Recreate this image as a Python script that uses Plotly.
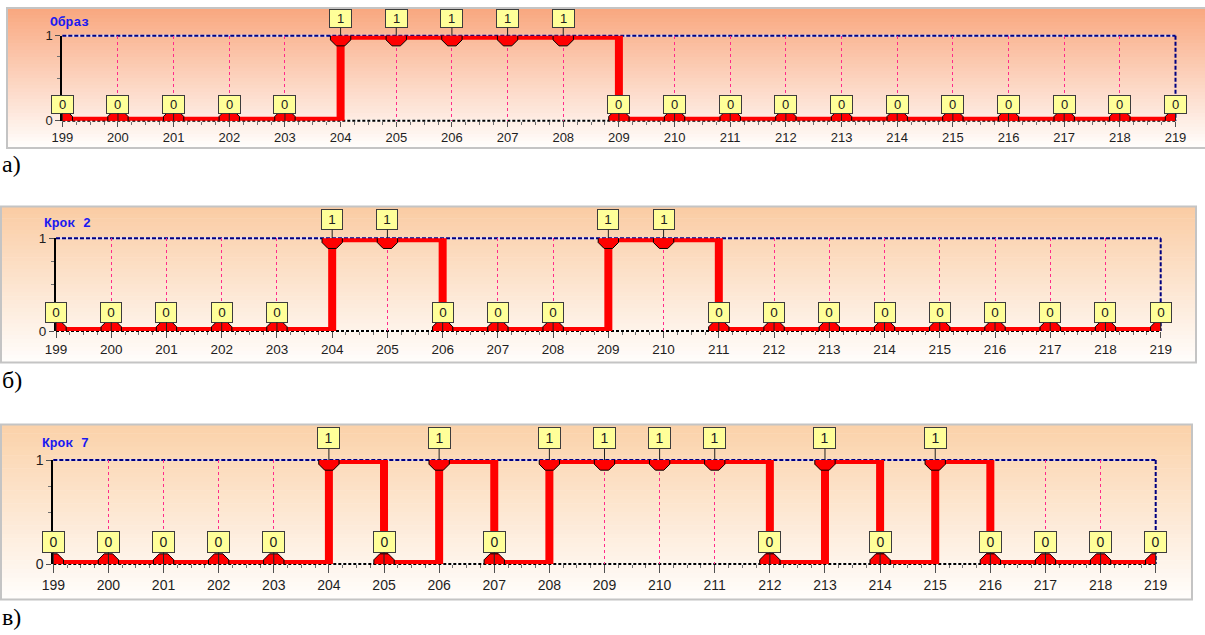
import plotly.graph_objects as go

# ---- data ----
x_vals = [199, 200, 201, 202, 203, 204, 205, 206, 207, 208, 209,
          210, 211, 212, 213, 214, 215, 216, 217, 218, 219]
a_vals = [0, 0, 0, 0, 0, 1, 1, 1, 1, 1, 0, 0, 0, 0, 0, 0, 0, 0, 0, 0, 0]
b_vals = [0, 0, 0, 0, 0, 1, 1, 0, 0, 0, 1, 1, 0, 0, 0, 0, 0, 0, 0, 0, 0]
c_vals = [0, 0, 0, 0, 0, 1, 0, 1, 0, 1, 1, 1, 1, 0, 1, 0, 1, 0, 0, 0, 0]
titles = ["Образ", "Крок 2", "Крок 7"]
letters = ["а)", "б)", "в)"]
y_ticks = [0, 1]
series = [a_vals, b_vals, c_vals]

W, H = 1205, 635

# ---- geometry (pixels) ----
panels = [
    dict(box=(7, 8, 1212, 148), px=(62.3, 1175.5), py=(35.7, 120.7), title=(48, 23),
         bw=21, bh=17, ay0=-16.5, ay1=-17, font=13, top=(249, 168, 128),
         letter=(0, 164), ticklen=5),
    dict(box=(1, 206.5, 1196, 362.5), px=(56, 1160.7), py=(238.3, 331), title=(41.7, 223.3),
         bw=20, bh=19, ay0=-19, ay1=-18.7, font=13.5, top=(250, 204, 164),
         letter=(0, 380), ticklen=6),
    dict(box=(1, 424.5, 1192, 599.5), px=(53.3, 1155.7), py=(460, 564), title=(40, 443),
         bw=21, bh=20, ay0=-22.3, ay1=-21.7, font=14, top=(251, 210, 170),
         letter=(0, 617), ticklen=8),
]

def fx(p):
    return p / W

def fy(p):
    return 1 - p / H

fig = go.Figure()
shapes = []
annotations = []
layout_axes = {}

for i, (pn, vals) in enumerate(zip(panels, series)):
    k = "" if i == 0 else str(i + 1)
    xa, ya = "x" + k, "y" + k
    bx0, by0, bx1, by1 = pn["box"]
    # gradient background bands
    n = 40
    tr, tg, tb = pn["top"]
    br, bgc, bb = (255, 253, 251)
    for j in range(n):
        t = j / (n - 1)
        col = "rgb(%d,%d,%d)" % (round(tr + (br - tr) * t), round(tg + (bgc - tg) * t),
                                 round(tb + (bb - tb) * t))
        y0p = by0 + (by1 - by0) * j / n
        y1p = by0 + (by1 - by0) * (j + 1) / n + 0.6
        shapes.append(dict(type="rect", xref="paper", yref="paper", x0=fx(bx0), x1=fx(bx1),
                           y0=fy(y0p), y1=fy(min(y1p, by1)), fillcolor=col, line_width=0,
                           layer="below"))
    # panel border
    shapes.append(dict(type="rect", xref="paper", yref="paper", x0=fx(bx0), x1=fx(bx1),
                       y0=fy(by0), y1=fy(by1), line=dict(color="#C4C4C4", width=2),
                       fillcolor="rgba(0,0,0,0)", layer="below"))
    px0, px1 = pn["px"]
    pyt, pyb = pn["py"]
    # frame: top blue dashed, right blue dashed, bottom black dashed
    shapes.append(dict(type="line", xref="paper", yref="paper", x0=fx(px0), x1=fx(px1),
                       y0=fy(pyt), y1=fy(pyt), line=dict(color="#D8D8FF", width=2), layer="below"))
    shapes.append(dict(type="line", xref="paper", yref="paper", x0=fx(px0), x1=fx(px1),
                       y0=fy(pyt), y1=fy(pyt), line=dict(color="#000080", width=2, dash="4px,2px"),
                       layer="below"))
    shapes.append(dict(type="line", xref="paper", yref="paper", x0=fx(px1), x1=fx(px1),
                       y0=fy(pyt), y1=fy(pyb), line=dict(color="#000080", width=2, dash="4px,2px"),
                       layer="below"))
    shapes.append(dict(type="line", xref="paper", yref="paper", x0=fx(px0), x1=fx(px1),
                       y0=fy(pyb), y1=fy(pyb), line=dict(color="#FFFFFF", width=2), layer="below"))
    shapes.append(dict(type="line", xref="paper", yref="paper", x0=fx(px0), x1=fx(px1),
                       y0=fy(pyb), y1=fy(pyb), line=dict(color="#000000", width=2, dash="3px,2px"),
                       layer="below"))

    fig.add_trace(go.Scatter(
        x=x_vals, y=vals, xaxis=xa, yaxis=ya, mode="lines+markers",
        line=dict(color="#FF0000", width=8, shape="hv"),
        marker=dict(symbol="octagon", size=22, color="#FF0000",
                    line=dict(color="#000000", width=1)),
        cliponaxis=True, hoverinfo="skip", showlegend=False))

    tickfont = dict(family="Liberation Sans, Arial", size=pn["font"], color="#1E1E1E")
    layout_axes["xaxis" + k] = dict(
        domain=[fx(px0), fx(px1)], range=[x_vals[0], x_vals[-1]], anchor=ya,
        tickmode="array", tickvals=x_vals, ticktext=[str(v) for v in x_vals],
        ticks="outside", ticklen=pn["ticklen"], tickcolor="#505050", tickwidth=1,
        showgrid=True, gridcolor="#FF2A8A", griddash="3px,3px", gridwidth=1,
        zeroline=False, showline=False, tickfont=tickfont,
        minor=dict(dtick=0.25, tick0=x_vals[0], ticks="outside", ticklen=3,
                   tickcolor="#707070", showgrid=False),
        fixedrange=True)
    layout_axes["yaxis" + k] = dict(
        domain=[fy(pyb), fy(pyt)], range=[0, 1], anchor=xa,
        tickmode="array", tickvals=y_ticks, ticktext=[str(v) for v in y_ticks],
        ticks="outside", ticklen=5, tickcolor="#505050", tickwidth=1,
        showgrid=False, zeroline=False, showline=True, linecolor="#000000", linewidth=2,
        tickfont=tickfont,
        minor=dict(dtick=0.25, ticks="outside", ticklen=3, tickcolor="#707070", showgrid=False),
        fixedrange=True)

    # value label boxes
    for xv, v in zip(x_vals, vals):
        annotations.append(dict(
            x=xv, y=v, xref=xa, yref=ya, text=str(v), showarrow=True, arrowhead=0,
            arrowwidth=1, arrowcolor="#202020", ax=0, ay=pn["ay1"] if v == 1 else pn["ay0"],
            standoff=0, bgcolor="#FFFF99", bordercolor="#3C3C3C", borderwidth=1, borderpad=1,
            width=pn["bw"] - 2, height=pn["bh"] - 2,
            font=dict(family="Liberation Sans, Arial", size=pn["font"], color="#202020")))

    # title
    tx, ty = pn["title"]
    annotations.append(dict(x=fx(tx), y=fy(ty), xref="paper", yref="paper", text="<b>%s</b>" % titles[i],
                            showarrow=False, xanchor="left", yanchor="middle",
                            font=dict(family="Liberation Mono, Courier New", size=13,
                                      color="#1A1AF0")))
    # panel letter
    lx, ly = pn["letter"]
    annotations.append(dict(x=fx(lx), y=fy(ly), xref="paper", yref="paper", text=letters[i],
                            showarrow=False, xanchor="left", yanchor="middle",
                            font=dict(family="Liberation Serif, Times New Roman", size=24,
                                      color="#000000")))

fig.update_layout(
    width=W, height=H, margin=dict(l=0, r=0, t=0, b=0, autoexpand=False),
    paper_bgcolor="#FFFFFF", plot_bgcolor="rgba(0,0,0,0)",
    shapes=shapes, annotations=annotations, showlegend=False,
    **layout_axes)

fig.write_html("out.html", config={"displayModeBar": False},
               post_script="document.body.style.margin='0';document.body.style.overflow='hidden';")
